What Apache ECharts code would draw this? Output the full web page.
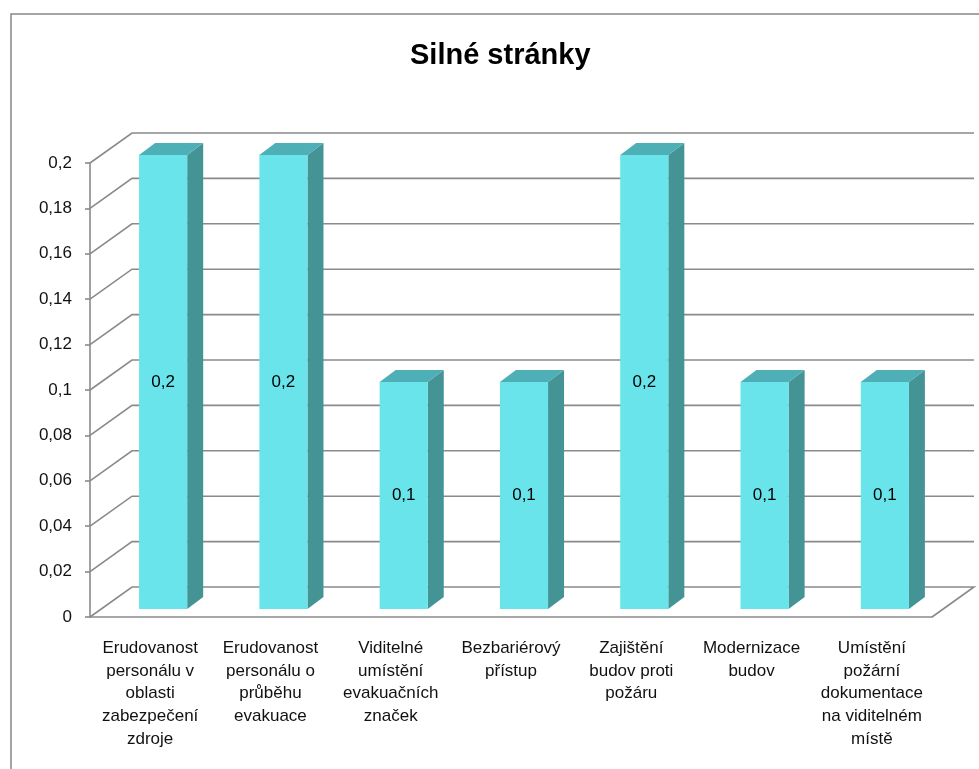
<!DOCTYPE html>
<html>
<head>
<meta charset="utf-8">
<script src="https://cdn.jsdelivr.net/npm/echarts@6/dist/echarts.min.js"></script>
<style>
  html, body { margin: 0; padding: 0; background: #fff; }
  #chart { width: 979px; height: 769px; }
</style>
</head>
<body>
<div id="chart"></div>
<script>
const categories = [
  "Erudovanost\npersonálu v\noblasti\nzabezpečení\nzdroje",
  "Erudovanost\npersonálu o\nprůběhu\nevakuace",
  "Viditelné\numístění\nevakuačních\nznaček",
  "Bezbariérový\npřístup",
  "Zajištění\nbudov proti\npožáru",
  "Modernizace\nbudov",
  "Umístění\npožární\ndokumentace\nna viditelném\nmístě",
];
const values = [0.2, 0.2, 0.1, 0.1, 0.2, 0.1, 0.1];
const yTicks = [0, 0.02, 0.04, 0.06, 0.08, 0.1, 0.12, 0.14, 0.16, 0.18, 0.2];

const FONT = "Liberation Sans";
const DEPTH_X = 42, DEPTH_Y = -30; // wall depth offset
const fmt = (v) => String(+(+v).toFixed(2)).replace(".", ",");

const chart = echarts.init(document.getElementById("chart"));

// back wall + side wall grid lines
function renderWall(params, api) {
  const cs = params.coordSys;
  const v = api.value(0);
  const y = api.coord([0, v])[1];
  const x0 = cs.x, x1 = cs.x + cs.width;
  const pts = [[x0, y], [x0 + DEPTH_X, y + DEPTH_Y], [x1 + DEPTH_X, y + DEPTH_Y]];
  if (v === 0) pts.push([x1, y]);
  return {
    type: "polyline",
    shape: { points: pts },
    style: { stroke: "#8a8a8a", lineWidth: 1.6, fill: null },
  };
}

// pseudo 3d bar
function renderBar(params, api) {
  const idx = api.value(0);
  const val = api.value(1);
  const band = api.size([1, 0])[0];
  const top = api.coord([idx, val]);
  const base = api.coord([idx, 0]);
  const shiftX = band * 0.108, shiftY = -8;
  const hw = band * 0.2;
  const dx = band * 0.133, dy = -12;
  const xl = top[0] + shiftX - hw, xr = top[0] + shiftX + hw;
  const yt = top[1] + shiftY, yb = base[1] + shiftY;
  return {
    type: "group",
    children: [
      {
        type: "polygon",
        shape: { points: [[xr, yt], [xr + dx, yt + dy], [xr + dx, yb + dy], [xr, yb]] },
        style: { fill: "#449496" },
      },
      {
        type: "polygon",
        shape: { points: [[xl, yt], [xl + dx, yt + dy], [xr + dx, yt + dy], [xr, yt]] },
        style: { fill: "#4eafb6" },
      },
      {
        type: "rect",
        shape: { x: xl, y: yt, width: xr - xl, height: yb - yt },
        style: { fill: "#68e4ea" },
      },
      {
        type: "text",
        style: {
          x: (xl + xr) / 2, y: (yt + yb) / 2,
          text: fmt(val), fill: "#000", font: "17px " + FONT,
          align: "center", verticalAlign: "middle",
        },
      },
    ],
  };
}

const option = {
  animation: false,
  backgroundColor: "#fff",
  title: {
    text: "Silné stránky",
    left: 405,
    top: 36,
    textStyle: { fontFamily: FONT, fontSize: 29, fontWeight: "bold", color: "#000" },
  },
  graphic: [
    {
      type: "rect",
      shape: { x: 11, y: 14, width: 1000, height: 800 },
      style: { fill: null, stroke: "#888", lineWidth: 1.5 },
      silent: true,
    },
  ],
  grid: { left: 90, right: 47, top: 163, bottom: 152 },
  xAxis: {
    type: "category",
    data: categories,
    axisLine: { lineStyle: { color: "#8a8a8a", width: 1.6 } },
    axisTick: { length: 5, lineStyle: { color: "#8a8a8a", width: 1.6 } },
    axisLabel: {
      interval: 0, margin: 20, color: "#111",
      fontFamily: FONT, fontSize: 17, lineHeight: 22.7,
    },
  },
  yAxis: {
    type: "value",
    min: 0, max: 0.2, interval: 0.02,
    axisLine: { show: true, lineStyle: { color: "#8a8a8a", width: 1.6 } },
    axisTick: { show: true, length: 5, lineStyle: { color: "#8a8a8a", width: 1.6 } },
    splitLine: { show: false },
    axisLabel: {
      margin: 18, color: "#111", fontFamily: FONT, fontSize: 17,
      formatter: fmt,
    },
  },
  series: [
    {
      type: "custom",
      renderItem: renderWall,
      data: yTicks.map((v) => [v]),
      encode: { y: 0 },
      z: 1,
      silent: true,
    },
    {
      type: "custom",
      renderItem: renderBar,
      data: values.map((v, i) => [i, v]),
      encode: { x: 0, y: 1 },
      z: 3,
    },
  ],
};

chart.setOption(option);
</script>
</body>
</html>
